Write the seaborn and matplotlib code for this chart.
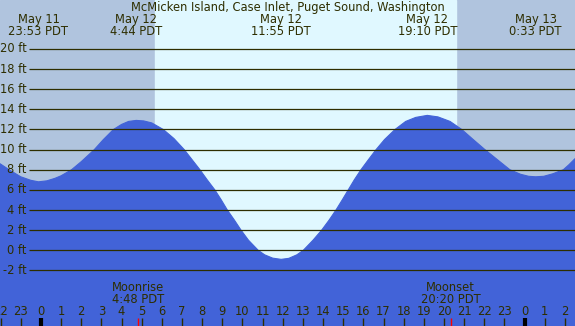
import numpy as np
import pandas as pd
import matplotlib
matplotlib.use("Agg")
import matplotlib.pyplot as plt
import matplotlib.transforms as mtransforms
import seaborn as sns

# Tide height (ft), hours since midnight May 12
hours = [-2.03, -1.5, -1.0, -0.5, -0.12, 0.3, 0.7, 1.0, 1.52, 2.0, 2.65, 3.1,
         3.6, 4.0, 4.35, 4.73, 5.1, 5.5, 6.07, 6.6, 7.11, 7.5, 7.89, 8.25,
         8.63, 8.95, 9.25, 9.6, 9.93, 10.3, 10.78, 11.1, 11.5, 11.92, 12.3,
         12.7, 13.02, 13.5, 13.93, 14.3, 14.64, 14.95, 15.25, 15.55, 15.88,
         16.25, 16.63, 17.05, 17.57, 18.1, 18.6, 19.17, 19.7, 20.3, 20.88,
         21.45, 22.03, 22.65, 23.27, 23.8, 24.2, 24.55, 24.95, 25.4, 25.92,
         26.2, 26.5]
tide_ft = [8.6, 7.9, 7.3, 6.95, 6.8, 6.9, 7.15, 7.4, 8.0, 8.8, 10.0, 11.0,
           12.0, 12.5, 12.8, 12.9, 12.85, 12.65, 12.0, 11.1, 10.0, 9.0, 8.0,
           7.0, 6.0, 5.0, 4.0, 3.0, 2.0, 1.0, 0.0, -0.45, -0.78, -0.9, -0.8,
           -0.45, 0.0, 1.0, 2.0, 3.0, 4.0, 5.0, 6.0, 7.0, 8.0,
           9.0, 10.0, 11.0, 12.0, 12.8, 13.2, 13.4, 13.25, 12.8, 12.0,
           11.0, 10.0, 9.0, 8.0, 7.55, 7.35, 7.3, 7.35, 7.6, 8.0,
           8.5, 9.1]

# High / low tide labels
event_hours = [-0.12, 4.73, 11.92, 19.17, 24.55]
event_dates = ["May 11", "May 12", "May 12", "May 12", "May 13"]
event_times = ["23:53 PDT", "4:44 PDT", "11:55 PDT", "19:10 PDT", "0:33 PDT"]

sunrise, sunset = 5.66, 20.6
moon_hours = [4.8, 20.33]
moon_names = ["Moonrise", "Moonset"]
moon_times = ["4:48 PDT", "20:20 PDT"]

ft_levels = list(range(-2, 21, 2))
hour_ticks = list(range(-2, 27))

title = "McMicken Island, Case Inlet, Puget Sound, Washington"

night = "#B0C4DE"
day = "#E0F8FF"
water = "#4263D8"
ink = "#2E2E00"
fs = 8.3

df = pd.DataFrame({"hour": hours, "ft": tide_ft})

sns.set_style("white")
plt.rcParams["font.family"] = ["DejaVu Sans"]

fig = plt.figure(figsize=(5.75, 3.26), dpi=100)
ax = fig.add_axes([0, 0, 1, 1])
ax.set_xlim(-2.03, 26.5)
ax.set_ylim(-7.52, 24.86)

ax.axvspan(-2.03, 26.5, color=night, zorder=0)
ax.axvspan(sunrise, sunset, color=day, zorder=0)

ax.fill_between(df["hour"], df["ft"], -7.52, color=water, lw=0, zorder=1)
sns.lineplot(data=df, x="hour", y="ft", color=water, lw=0.8, ax=ax, zorder=1)
ax.axis("off")

# horizontal foot lines and labels
ax.hlines(ft_levels, -0.6, 26.5, color=ink, lw=0.9, zorder=2)
for f in ft_levels:
    ax.text(-0.7, f, f"{f} ft", ha="right", va="center", fontsize=fs,
            color=ink, zorder=3)

tr = mtransforms.blended_transform_factory(ax.transData, ax.transAxes)

def py(p):
    return 1 - p / 326

ax.text(0.5, py(7.3), title, transform=ax.transAxes, ha="center",
        va="center", fontsize=fs, color=ink)
for h, d, t in zip(event_hours, event_dates, event_times):
    ax.text(h, py(19), d, transform=tr, ha="center", va="center",
            fontsize=fs, color=ink)
    ax.text(h, py(31.5), t, transform=tr, ha="center", va="center",
            fontsize=fs, color=ink)

for h, n, t in zip(moon_hours, moon_names, moon_times):
    ax.text(h, py(287.3), n, transform=tr, ha="center", va="center",
            fontsize=fs, color=ink)
    ax.text(h, py(299.3), t, transform=tr, ha="center", va="center",
            fontsize=fs, color=ink)
    ax.vlines(h, 0, 8 / 326, transform=tr, color="red", lw=1, zorder=3)

# hour axis along the bottom
for h in hour_ticks:
    ax.text(h, py(311.7), str(h % 24), transform=tr, ha="center",
            va="center", fontsize=fs, color=ink)
    if h % 24 == 0:
        ax.vlines(h, 0, 8 / 326, transform=tr, color="black", lw=3, zorder=3)
    else:
        ax.vlines(h, 0, 8 / 326, transform=tr, color=ink, lw=1, zorder=3)

fig.savefig("out.png", dpi=100)
